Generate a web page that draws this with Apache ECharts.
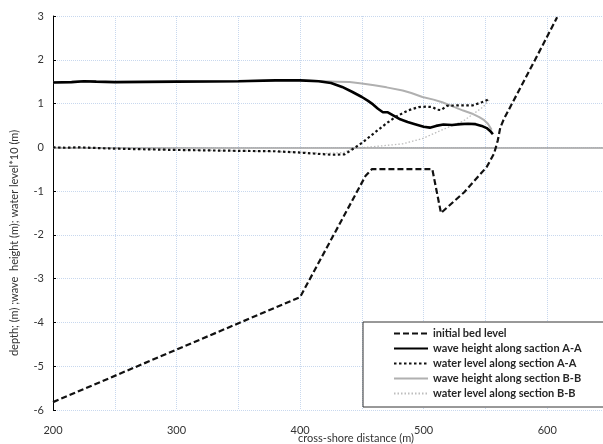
<!DOCTYPE html>
<html>
<head>
<meta charset="utf-8">
<script src="https://cdn.jsdelivr.net/npm/echarts@6/dist/echarts.min.js"></script>
<style>
html,body{margin:0;padding:0;background:#fff;}
#chart{width:603px;height:444px;}
</style>
</head>
<body>
<div id="chart"></div>
<script>
// ---- data ----
var bedX = [200, 400, 453, 458, 507, 514, 533, 551, 557, 560, 562, 565, 590, 608];
var bedY = [-5.82, -3.42, -0.65, -0.5, -0.5, -1.5, -1.02, -0.45, -0.14, 0.16, 0.45, 0.65, 1.99, 2.97];

var waveAX = [200, 215, 225, 235, 250, 300, 350, 380, 400, 415, 425, 434, 442, 450, 455, 459, 463, 467, 471, 476, 481, 487, 493, 500, 505, 510, 516, 523, 530, 536, 542, 547, 551, 554, 556];
var waveAY = [1.48, 1.49, 1.51, 1.50, 1.49, 1.50, 1.51, 1.53, 1.53, 1.51, 1.47, 1.38, 1.27, 1.15, 1.06, 0.98, 0.88, 0.80, 0.80, 0.72, 0.64, 0.58, 0.53, 0.47, 0.45, 0.49, 0.52, 0.51, 0.53, 0.54, 0.53, 0.49, 0.44, 0.37, 0.30];

var levelAX = [200, 210, 220, 250, 300, 350, 380, 400, 415, 426, 436, 442, 450, 461, 470, 477, 483, 488, 496, 502, 507, 511, 514, 519, 529, 540, 547, 553];
var levelAY = [0, -0.01, 0, -0.03, -0.06, -0.08, -0.09, -0.12, -0.15, -0.17, -0.16, -0.05, 0.1, 0.35, 0.55, 0.69, 0.78, 0.85, 0.92, 0.93, 0.92, 0.86, 0.85, 0.95, 0.96, 0.96, 1.03, 1.1];

var waveBX = [200, 215, 225, 235, 250, 300, 350, 380, 400, 420, 430, 440, 450, 460, 470, 483, 490, 499, 508, 515, 524, 532, 540, 545, 549, 552, 555];
var waveBY = [1.48, 1.49, 1.51, 1.50, 1.49, 1.50, 1.51, 1.53, 1.53, 1.51, 1.50, 1.49, 1.46, 1.42, 1.37, 1.30, 1.24, 1.15, 1.09, 1.03, 0.93, 0.84, 0.76, 0.69, 0.62, 0.54, 0.40];

var levelBX = [200, 250, 300, 350, 400, 420, 435, 442, 461, 483, 499, 515, 532, 548, 553];
var levelBY = [0, -0.03, -0.06, -0.08, -0.11, -0.14, -0.12, -0.03, 0.02, 0.08, 0.2, 0.4, 0.6, 0.92, 1.08];

var xTickLabels = [200, 300, 400, 500, 600];
var seriesNames = ['initial bed level', 'wave height along saction A-A', 'water level along section A-A', 'wave height along section B-B', 'water level along section B-B'];

function zip(xs, ys) { return xs.map(function (x, i) { return [x, ys[i]]; }); }

var FONT = 'Lato';
var chart = echarts.init(document.getElementById('chart'));
chart.setOption({
  animation: false,
  backgroundColor: '#ffffff',
  textStyle: { fontFamily: FONT },
  grid: { left: 53, top: 16, width: 556, height: 394, containLabel: false, outerBoundsMode: 'none' },
  legend: {
    orient: 'vertical',
    left: 363, top: 322,
    padding: [6, 30, 8, 30],
    itemWidth: 34, itemHeight: 12, itemGap: 4,
    backgroundColor: '#fff',
    borderColor: '#333', borderWidth: 1,
    itemStyle: { opacity: 0 },
    textStyle: { fontFamily: FONT, fontSize: 11, fontWeight: 'bold', color: '#262626' },
    data: seriesNames
  },
  xAxis: {
    type: 'value', min: 200, max: 650, interval: 50,
    axisLine: { show: false }, axisTick: { show: false },
    axisLabel: {
      margin: 15, fontSize: 11, color: '#333', fontFamily: FONT,
      formatter: function (v) { return xTickLabels.indexOf(v) >= 0 ? String(v) : ''; }
    },
    splitLine: { show: true, lineStyle: { color: '#c8d8ee', type: 'dotted', width: 1 } },
    name: 'cross-shore distance (m)', nameLocation: 'middle', nameGap: 23, nameMoveOverlap: false,
    nameTextStyle: { fontSize: 11, color: '#333', fontFamily: FONT, padding: [0, 0, 0, 50] }
  },
  yAxis: {
    type: 'value', min: -6, max: 3, interval: 1,
    axisLine: { show: true, lineStyle: { color: '#000', width: 1 } },
    axisTick: { show: true, inside: true, length: 3, lineStyle: { color: '#000' } },
    axisLabel: { margin: 9, fontSize: 11, color: '#333', fontFamily: FONT },
    splitLine: { show: true, lineStyle: { color: '#c8d8ee', type: 'dotted', width: 1 } },
    name: 'depth; (m) ;wave  height (m); water level*10 (m)', nameLocation: 'middle', nameGap: 33, nameMoveOverlap: false,
    nameTextStyle: { fontSize: 11, color: '#333', fontFamily: FONT, padding: [0, 60, 0, 0] }
  },
  series: [
    {
      name: seriesNames[0], type: 'line', data: zip(bedX, bedY), symbol: 'none', z: 6,
      lineStyle: { color: '#111', width: 2.2, type: [6, 3] }, itemStyle: { color: '#111' },
      markLine: {
        silent: true, symbol: 'none', label: { show: false },
        lineStyle: { color: '#a0a0a0', width: 1.5, type: 'solid' },
        data: [{ yAxis: 0 }]
      }
    },
    {
      name: seriesNames[1], type: 'line', data: zip(waveAX, waveAY), symbol: 'none', z: 5,
      lineStyle: { color: '#000', width: 2.6, type: 'solid' }, itemStyle: { color: '#000' }
    },
    {
      name: seriesNames[2], type: 'line', data: zip(levelAX, levelAY), symbol: 'none', z: 5,
      lineStyle: { color: '#111', width: 2.2, type: [2.5, 2.5] }, itemStyle: { color: '#111' }
    },
    {
      name: seriesNames[3], type: 'line', data: zip(waveBX, waveBY), symbol: 'none', z: 3,
      lineStyle: { color: '#b0b0b0', width: 2, type: 'solid' }, itemStyle: { color: '#b0b0b0' }
    },
    {
      name: seriesNames[4], type: 'line', data: zip(levelBX, levelBY), symbol: 'none', z: 3,
      lineStyle: { color: '#bdbdbd', width: 1.3, type: [1.5, 2] }, itemStyle: { color: '#bdbdbd' }
    }
  ]
});
</script>
</body>
</html>
